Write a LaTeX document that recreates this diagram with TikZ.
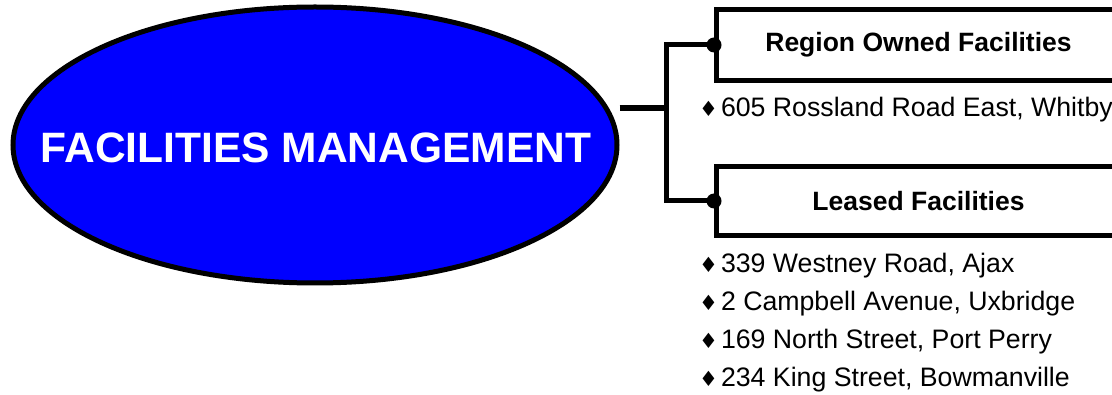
\documentclass[tikz,border=0pt]{standalone}
\usepackage{fontspec}
\setmainfont{Liberation Sans}
\newfontfamily\symfont{DejaVu Sans}
\usetikzlibrary{shapes.geometric}
\newcommand{\dmd}{{\symfont\fontsize{21}{21}\selectfont ♦}\hspace{3pt}}
\tikzset{
  hub/.style={ellipse, draw=black, line width=5pt, fill={rgb,255:red,0;green,0;blue,255},
    minimum width=604pt, minimum height=276pt, inner sep=0pt},
  hubtext/.style={inner sep=0pt, font=\fontsize{42.5}{48}\selectfont\bfseries, text=white},
  catbox/.style={rectangle, draw=black, line width=5pt, fill=white, inner sep=0pt,
    minimum width=404pt, anchor=north west, font=\fontsize{26.5}{30}\selectfont\bfseries},
  conn/.style={draw=black, line width=5pt},
  stub/.style={draw=black, line width=6.5pt},
  item/.style={anchor=base west, inner sep=0pt, font=\fontsize{26.7}{30}\selectfont},
}
\begin{document}
\begin{tikzpicture}[x=1pt, y=-1pt]
  \useasboundingbox[fill=white] (0,0) rectangle (1112,395);

  % central ellipse and its title
  \node[hub] (fm) at (315,145) {};
  \node[hubtext] (fmtext) at (316,148) {FACILITIES MANAGEMENT};

  % category boxes
  \node[catbox, minimum height=71pt] (own) at (714,7) {Region Owned Facilities};
  \node[catbox, minimum height=69pt] (lease) at (714,164) {Leased Facilities};

  % connector from the ellipse to both boxes
  \coordinate (stubstart) at (fm.east |- 0,108);
  \coordinate (junction) at (666,108);
  \draw[stub] (stubstart) -- (junction);
  \draw[conn] (own.west) -| (junction) |- (lease.west);
  \fill (own.west) circle (7.5pt);
  \fill (lease.west) circle (7.5pt);

  % addresses
  \node[item] (a1) at (699,117) {\dmd 605 Rossland Road East, Whitby};
  \node[item] (b1) at (699,272.5) {\dmd 339 Westney Road, Ajax};
  \node[item] (b2) at (699,310.5) {\dmd 2 Campbell Avenue, Uxbridge};
  \node[item] (b3) at (699,348.5) {\dmd 169 North Street, Port Perry};
  \node[item] (b4) at (699,386.5) {\dmd 234 King Street, Bowmanville};
\end{tikzpicture}
\end{document}
